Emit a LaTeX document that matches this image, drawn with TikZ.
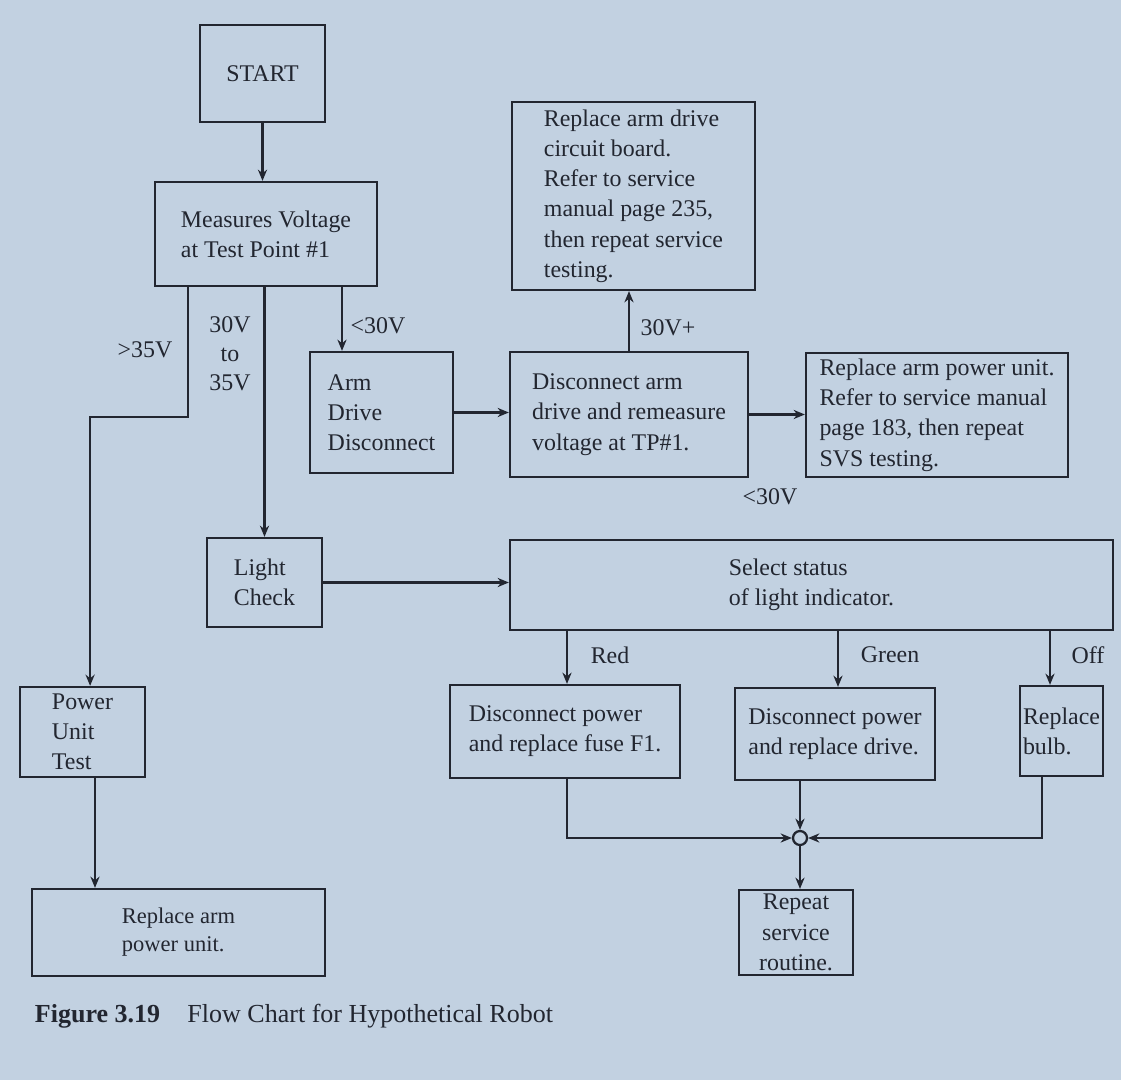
\documentclass[tikz,border=0pt]{standalone}
\usepackage{fontspec}
\setmainfont{Liberation Serif}
\usetikzlibrary{arrows.meta}
\definecolor{paper}{RGB}{194,209,225}
\definecolor{ink}{RGB}{34,38,48}

\begin{document}
\begin{tikzpicture}[flowbox/.style={rectangle, draw=ink, line width=1.6pt, text=ink, font=\fontsize{17}{21.5}\selectfont, align=left, inner sep=1pt}, flowline/.style={draw=ink, line width=1.6pt, -{Stealth[length=8pt,width=6.5pt]}}, flowlabel/.style={text=ink, font=\fontsize{17}{20.5}\selectfont, align=center, inner sep=0pt}]

        \fill[paper] (0,0) rectangle (28.025,-27);

        \node[flowbox, minimum width=3.125cm, minimum height=2.425cm] (start) at (6.5625,-1.8375) {START};
        \node[flowbox, minimum width=5.55cm, minimum height=2.6cm] (measure) at (6.65,-5.85) {Measures Voltage\\at Test Point \#1};
        \node[flowbox, minimum width=3.575cm, minimum height=3.025cm] (armdrive) at (9.5375,-10.3125) {Arm\\Drive\\Disconnect};
        \node[flowbox, minimum width=5.95cm, minimum height=3.125cm] (disc) at (15.725,-10.3625) {Disconnect arm\\drive and remeasure\\voltage at TP\#1.};
        \node[flowbox, minimum width=6.075cm, minimum height=4.7cm] (board) at (15.8375,-4.9) {Replace arm drive\\circuit board.\\Refer to service\\manual page 235,\\then repeat service\\testing.};
        \node[flowbox, minimum width=6.55cm, minimum height=3.1cm] (rpu) at (23.425,-10.375) {Replace arm power unit.\\Refer to service manual\\page 183, then repeat\\SVS testing.};
        \node[flowbox, minimum width=2.875cm, minimum height=2.225cm] (light) at (6.6125,-14.5625) {Light\\Check};
        \node[flowbox, minimum width=15.075cm, minimum height=2.25cm] (select) at (20.2875,-14.625) {Select status\\of light indicator.};
        \node[flowbox, minimum width=3.125cm, minimum height=2.25cm] (pwrtest) at (2.0625,-18.3) {Power\\Unit\\Test};
        \node[flowbox, minimum width=7.325cm, minimum height=2.175cm, font=\fontsize{16}{20}\selectfont] (rapu) at (4.4625,-23.3125) {Replace arm\\power unit.};
        \node[flowbox, minimum width=5.75cm, minimum height=2.325cm] (fuse) at (14.125,-18.2875) {Disconnect power\\and replace fuse F1.};
        \node[flowbox, minimum width=5cm, minimum height=2.3cm] (drive) at (20.875,-18.35) {Disconnect power\\and replace drive.};
        \node[flowbox, minimum width=2.075cm, minimum height=2.25cm] (bulb) at (26.5375,-18.275) {Replace\\bulb.};
        \node[flowbox, minimum width=2.85cm, minimum height=2.125cm, align=center] (repeat) at (19.9,-23.3125) {Repeat\\service\\routine.};
        \node[circle, draw=ink, line width=1.6pt, minimum size=0.35cm, inner sep=0pt] (join) at (20,-20.95) {};

        \node[flowlabel] (hilabel) at (3.625,-8.75) {>35V};
        \node[flowlabel] (midlabel) at (5.75,-8.85) {30V\\to\\35V};
        \node[flowlabel] (lolabel) at (9.45,-8.15) {<30V};
        \node[flowlabel] (pluslabel) at (16.7,-8.2) {30V+};
        \node[flowlabel] (underlabel) at (19.25,-12.425) {<30V};
        \node[flowlabel] (redlabel) at (15.25,-16.375) {Red};
        \node[flowlabel] (greenlabel) at (22.25,-16.375) {Green};
        \node[flowlabel] (offlabel) at (27.2,-16.375) {Off};

        \node[text=ink, anchor=base west, font=\fontsize{18.5}{22}\selectfont] (caption) at (0.75,-25.55) {\textbf{Figure 3.19}\hspace{0.8em} Flow Chart for Hypothetical Robot};

        \coordinate (hiturn) at (4.7,-10.425);
        \coordinate (lotap) at (8.55,0);
        \coordinate (pwrdrop) at (2.375,0);
        \coordinate (redtap) at (14.175,0);
        \coordinate (greentap) at (20.95,0);
        \coordinate (offtap) at (26.25,0);
        \coordinate (offback) at (26.05,0);

        \draw[flowline] (start) -- (start |- measure.north);
        \draw[flowline] (measure.south -| hiturn) -- (hiturn) -| ([xshift=0.19cm]pwrtest.north);
        \draw[flowline] (measure.south -| light.north) -- (light.north);
        \draw[flowline] (measure.south -| lotap) -- (armdrive.north -| lotap);
        \draw[flowline] (armdrive.east) -- (armdrive.east -| disc.west);
        \draw[flowline] (disc.north) -- (disc.north |- board.south);
        \draw[flowline] (disc.east) -- (disc.east -| rpu.west);
        \draw[flowline] (light.east) -- (light.east -| select.west);
        \draw[flowline] (select.south -| redtap) -- (fuse.north -| redtap);
        \draw[flowline] (select.south -| greentap) -- (drive.north -| greentap);
        \draw[flowline] (select.south -| offtap) -- (bulb.north -| offtap);
        \draw[flowline] (fuse.south -| redtap) |- (join.west);
        \draw[flowline] (drive.south -| join) -- (join.north);
        \draw[flowline] (bulb.south -| offback) |- (join.east);
        \draw[flowline] (join.south) -- (join.south |- repeat.north);
        \draw[flowline] (pwrtest.south -| pwrdrop) -- (rapu.north -| pwrdrop);

        \end{tikzpicture}
\end{document}
